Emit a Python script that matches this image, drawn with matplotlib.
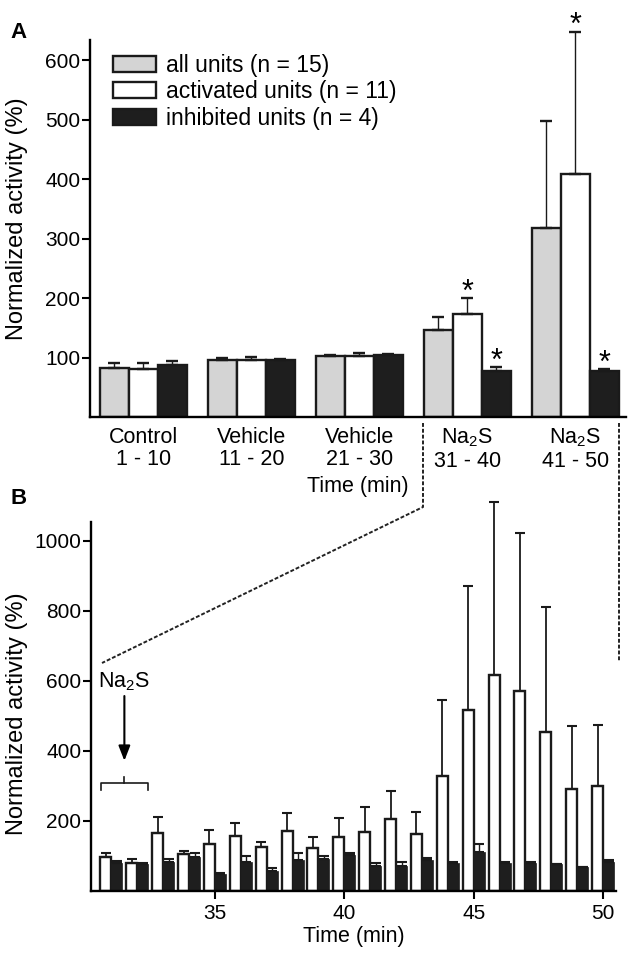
import matplotlib
matplotlib.use("Agg")
import matplotlib.pyplot as plt
import numpy as np
from matplotlib.lines import Line2D
from matplotlib.patches import Rectangle

plt.rcParams['font.family'] = ['Liberation Sans', 'DejaVu Sans']
plt.rcParams['mathtext.fontset'] = 'custom'
plt.rcParams['mathtext.rm'] = 'Liberation Sans'
plt.rcParams['mathtext.it'] = 'Liberation Sans'

# ---------------- data ----------------
groups_A = ['Control\n1 - 10', 'Vehicle\n11 - 20', 'Vehicle\n21 - 30',
            'Na$_2$S\n31 - 40', 'Na$_2$S\n41 - 50']
all_mean = [83, 96, 102, 147, 318]
all_sem = [7, 4, 3, 21, 180]
act_mean = [80, 96, 102, 173, 408]
act_sem = [10, 5, 6, 27, 240]
inh_mean = [87, 96, 104, 78, 78]
inh_sem = [7, 1, 2, 6, 2]
stars_A = [(3, 'act'), (3, 'inh'), (4, 'act'), (4, 'inh')]
legend_labels = ['all units (n = 15)', 'activated units (n = 11)', 'inhibited units (n = 4)']

minutes = list(range(31, 51))
act_B = [97, 78, 166, 105, 133, 157, 126, 171, 121, 152,
         169, 205, 162, 329, 516, 617, 571, 453, 290, 299]
act_B_sem = [12, 12, 45, 9, 41, 36, 14, 51, 32, 55,
             69, 81, 62, 216, 355, 493, 452, 356, 181, 175]
inh_B = [80, 76, 82, 95, 47, 81, 57, 88, 91, 103,
         71, 71, 87, 78, 110, 78, 78, 75, 67, 83]
inh_B_sem = [4, 4, 8, 14, 4, 19, 9, 19, 8, 4,
             7, 10, 5, 5, 23, 5, 3, 0, 2, 6]

GRAY = '#d4d4d4'
DARK = '#1e1e1e'
EDGE = '#1a1a1a'
FS_TICK = 15
FS_XLAB = 15.5
FS_YLAB = 17
FS_LEG = 16.5

W, H = 630, 955
fig = plt.figure(figsize=(W / 100, H / 100), dpi=100)

def ax_rect(l, r, t, b):
    return [l / W, 1 - b / H, (r - l) / W, (b - t) / H]

def no_clip(eb):
    for art in list(eb.lines[1]) + list(eb.lines[2]):
        art.set_clip_on(False)

# ---------------- panel A ----------------
axA = fig.add_axes(ax_rect(90, 626, 40, 417))
x = np.arange(len(groups_A))
w = 0.2685
series = [(all_mean, all_sem, GRAY, -w), (act_mean, act_sem, 'white', 0), (inh_mean, inh_sem, DARK, w)]
for mean, sem, col, off in series:
    axA.bar(x + off, mean, width=w, color=col, edgecolor=EDGE, linewidth=1.7, zorder=2)
    eb = axA.errorbar(x + off, mean, yerr=[np.zeros(len(mean)), sem], fmt='none',
                      ecolor=EDGE, elinewidth=1.0, capsize=4, capthick=1.7, zorder=3)
    no_clip(eb)

for gi, which in stars_A:
    if which == 'act':
        xs, top = gi, act_mean[gi] + act_sem[gi]
    else:
        xs, top = gi + w, inh_mean[gi] + inh_sem[gi]
    axA.annotate('*', (xs, top), xytext=(0, -7), textcoords='offset points',
                 ha='center', va='bottom', fontsize=22, annotation_clip=False)

axA.set_xlim(-0.495, 4.47)
axA.set_ylim(0, 634)
axA.set_yticks([100, 200, 300, 400, 500, 600])
axA.set_xticks(x)
axA.set_xticklabels(groups_A, fontsize=FS_XLAB, linespacing=1.1)
axA.tick_params(axis='x', length=0, pad=7)
axA.tick_params(axis='y', labelsize=FS_TICK, length=5.5, width=1.5, direction='out', pad=1.5)
for s in ['top', 'right']:
    axA.spines[s].set_visible(False)
for s in ['left', 'bottom']:
    axA.spines[s].set_linewidth(1.7)
axA.set_ylabel('Normalized activity (%)', fontsize=FS_YLAB)
axA.yaxis.set_label_coords(-0.116, 0.525)
axA.set_xlabel('Time (min)', fontsize=FS_XLAB, labelpad=3)

handles = [Rectangle((0, 0), 1, 1, facecolor=c, edgecolor=EDGE, linewidth=1.7)
           for c in [GRAY, 'white', DARK]]
axA.legend(handles, legend_labels, loc='upper left', bbox_to_anchor=(0.043, 0.963),
           frameon=False, fontsize=FS_LEG, handlelength=1.88, handleheight=0.7,
           labelspacing=0.15, handletextpad=0.44, borderpad=0, borderaxespad=0)

# ---------------- panel B ----------------
axB = fig.add_axes(ax_rect(91, 616, 522, 890.7))
m = np.array(minutes)
bw = 0.425
axB.bar(m - bw / 2, act_B, width=bw, color='white', edgecolor=EDGE, linewidth=1.7, zorder=2)
axB.bar(m + bw / 2, inh_B, width=bw, color=DARK, edgecolor=DARK, linewidth=0.5, zorder=2)
eb = axB.errorbar(m - bw / 2, act_B, yerr=[np.zeros(len(act_B)), act_B_sem], fmt='none',
                  ecolor=EDGE, elinewidth=1.3, capsize=3.5, capthick=1.5, zorder=3)
no_clip(eb)
eb = axB.errorbar(m + bw / 2, inh_B, yerr=[np.zeros(len(inh_B)), inh_B_sem], fmt='none',
                  ecolor=EDGE, elinewidth=1.0, capsize=3.5, capthick=1.5, zorder=3)
no_clip(eb)

axB.set_xlim(30.21, 50.5)
axB.set_ylim(0, 1053)
axB.set_yticks([200, 400, 600, 800, 1000])
axB.set_xticks([35, 40, 45, 50])
axB.tick_params(axis='y', labelsize=FS_TICK, length=5.5, width=1.5, direction='out', pad=1.5)
axB.tick_params(axis='x', labelsize=FS_TICK, length=5.5, width=1.5, direction='out', pad=4)
for s in ['top', 'right']:
    axB.spines[s].set_visible(False)
for s in ['left', 'bottom']:
    axB.spines[s].set_linewidth(1.7)
axB.set_ylabel('Normalized activity (%)', fontsize=FS_YLAB)
axB.yaxis.set_label_coords(-0.12, 0.48)
axB.set_xlabel('Time (min)', fontsize=FS_XLAB, labelpad=2)

# Na2S application annotation
axB.text(31.5, 597, 'Na$_2$S', ha='center', va='center', fontsize=FS_XLAB)
axB.annotate('', xy=(31.5, 371), xytext=(31.5, 556),
             arrowprops=dict(arrowstyle='-|>,head_length=0.9,head_width=0.35',
                             color='black', lw=1.5, shrinkA=0, shrinkB=0))
axB.plot([30.6, 30.6, 32.42, 32.42], [288, 307, 307, 288], color=EDGE, lw=1.2)
axB.plot([31.5, 31.5], [307, 326], color=EDGE, lw=1.2)

# ---------------- dashed connectors ----------------
def fp(px, py):
    return px / W, 1 - py / H

p = [fp(423, 423), fp(423, 507), fp(102, 663)]
fig.add_artist(Line2D([q[0] for q in p], [q[1] for q in p], transform=fig.transFigure,
                      color='#222222', lw=1.4, linestyle=(0, (2, 1))))
p = [fp(619, 423), fp(619, 662)]
fig.add_artist(Line2D([q[0] for q in p], [q[1] for q in p], transform=fig.transFigure,
                      color='#222222', lw=1.4, linestyle=(0, (2, 1))))

# panel letters
fig.text(10 / W, 1 - 33 / H, 'A', fontsize=16, fontweight='bold', ha='left', va='center')
fig.text(10 / W, 1 - 498 / H, 'B', fontsize=16, fontweight='bold', ha='left', va='center')

fig.savefig('out.png', dpi=100)
